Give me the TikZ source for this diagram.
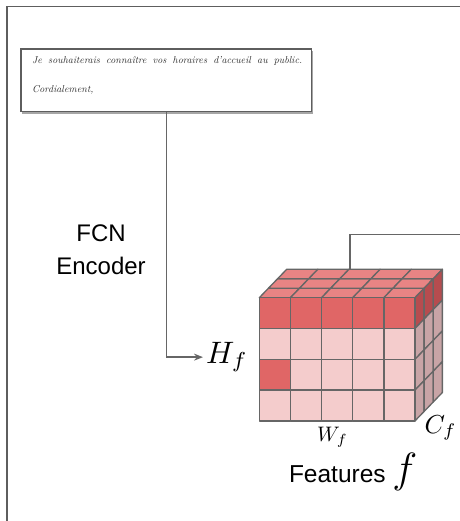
\documentclass[tikz,border=0pt]{standalone}
\usepackage{graphicx}
\usepackage{fontspec}
\setsansfont{Liberation Sans}
\usetikzlibrary{arrows.meta,shadows,calc}

\definecolor{framegray}{HTML}{5E5E5E}
\definecolor{gridc}{HTML}{666666}
\definecolor{frontred}{HTML}{E06666}
\definecolor{frontpink}{HTML}{F4CCCC}
\definecolor{topred}{HTML}{E88484}
\definecolor{sidered}{HTML}{B64C4F}
\definecolor{sidepink}{HTML}{C8A4A6}
\definecolor{inkgray}{HTML}{2E2E2E}

\tikzset{
  conn/.style={draw=gridc, line width=1.4pt},
  cell/.style={draw=gridc, line width=1.3pt, line join=round},
  label/.style={inner sep=0pt, outer sep=0pt},
  scan/.style={draw=framegray, line width=1.5pt, fill=white, inner sep=0pt,
    minimum width=290.7pt, minimum height=62.7pt,
    drop shadow={shadow xshift=1.5pt, shadow yshift=-2.5pt, opacity=0.35, fill=black}},
  hand/.style={font=\fontsize{10}{11}\selectfont\itshape, text=inkgray, inner sep=0pt}
}

\begin{document}
\begin{tikzpicture}[x=1pt,y=-1pt]
\useasboundingbox (0,0) rectangle (459,521);

% outer frame running off the right and bottom edges
\draw[framegray, line width=1.6pt] (6.7,522) -- (6.7,6.7) -- (460,6.7);

% scanned handwritten line
\node[scan] (img) at (166.3,80.3) {};
\node[hand, anchor=base west] (l1) at (32,64)
  {\makebox[270pt][s]{Je souhaiterais connaître vos horaires d'accueil au public.}};
\node[hand, anchor=base west] (l2) at (32,93) {Cordialement,};

% encoder label
\node[label, font=\sffamily\fontsize{24}{33}\selectfont, align=center] (enc) at (101,250)
  {FCN\\Encoder};

% feature tensor: front face 5x4 cells, depth 3 layers
\def\ox{259.3}\def\oy{297.7}\def\cw{31.14}\def\ch{30.8}\def\dx{9.13}\def\dy{-9.47}
% top face
\foreach \i in {0,...,4}{
  \foreach \k in {0,1,2}{
    \filldraw[cell, fill=topred]
      ({\ox+\i*\cw+\k*\dx},{\oy+\k*\dy}) -- ({\ox+(\i+1)*\cw+\k*\dx},{\oy+\k*\dy})
      -- ({\ox+(\i+1)*\cw+(\k+1)*\dx},{\oy+(\k+1)*\dy}) -- ({\ox+\i*\cw+(\k+1)*\dx},{\oy+(\k+1)*\dy}) -- cycle;
  }
}
% right face
\foreach \j in {0,...,3}{
  \foreach \k in {0,1,2}{
    \ifnum\j=0 \def\sc{sidered}\else\def\sc{sidepink}\fi
    \filldraw[cell, fill=\sc]
      ({\ox+5*\cw+\k*\dx},{\oy+\j*\ch+\k*\dy}) -- ({\ox+5*\cw+(\k+1)*\dx},{\oy+\j*\ch+(\k+1)*\dy})
      -- ({\ox+5*\cw+(\k+1)*\dx},{\oy+(\j+1)*\ch+(\k+1)*\dy}) -- ({\ox+5*\cw+\k*\dx},{\oy+(\j+1)*\ch+\k*\dy}) -- cycle;
  }
}
% front face
\foreach \i in {0,...,4}{
  \foreach \j in {0,...,3}{
    \def\fc{frontpink}
    \ifnum\j=0 \def\fc{frontred}\fi
    \ifnum\j=2 \ifnum\i=0 \def\fc{frontred}\fi\fi
    \filldraw[cell, fill=\fc] ({\ox+\i*\cw},{\oy+\j*\ch}) rectangle ({\ox+(\i+1)*\cw},{\oy+(\j+1)*\ch});
  }
}

% tensor dimension labels
\node[label, anchor=base west] (hf) at (206,363.3) {\scalebox{3.1}{$H_f$}};
\node[label, anchor=base west] (wf) at (317,441.7) {\scalebox{2.1}{$W_f$}};
\node[label, anchor=base west] (cf) at (424.5,433) {\scalebox{2.6}{$C_f$}};
\node[label, anchor=base west, font=\sffamily\fontsize{24.5}{30}\selectfont] (feat) at (289,482.7)
  {Features \scalebox{1.7}{$f$}};

% connectors
\coordinate (ctop) at (350,270);
\coordinate (cend) at (460,234.3);
\draw[conn, -{Stealth[length=9pt,width=7pt]}] (img.south) |- ([xshift=-3pt]hf.west);
\draw[conn] (ctop) |- (cend);
\end{tikzpicture}
\end{document}
